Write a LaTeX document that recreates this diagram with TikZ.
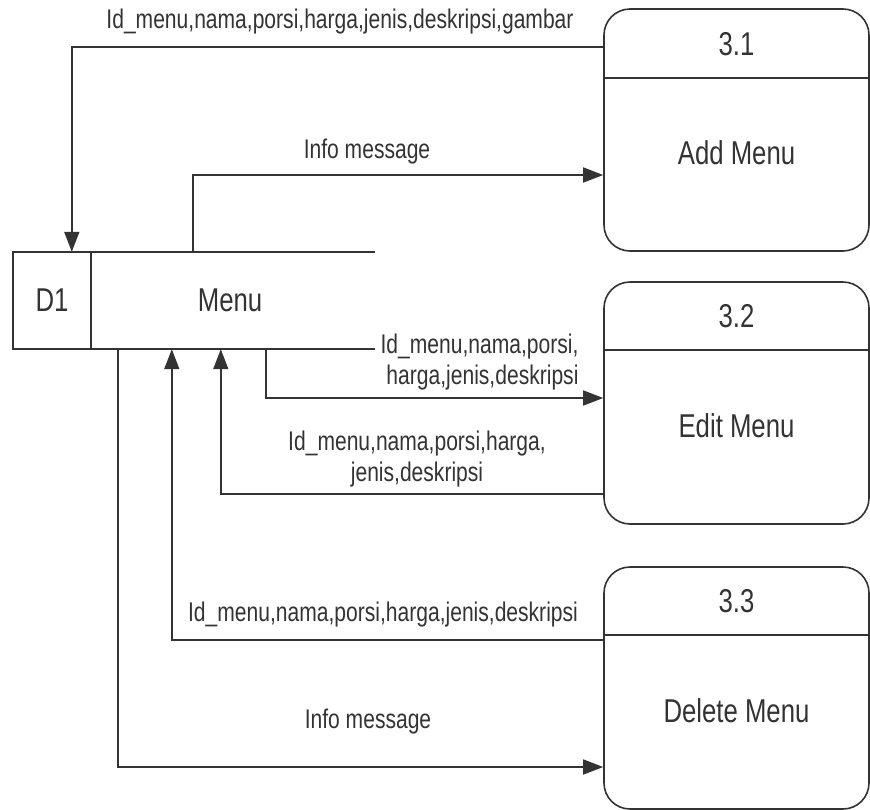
\documentclass[tikz,border=0pt]{standalone}
\usepackage{fontspec}
\setmainfont[FakeStretch=0.78]{Liberation Sans}
\usetikzlibrary{arrows.meta}

\begin{document}
\begin{tikzpicture}[x=1pt, y=-1pt,
  line/.style={draw=black!80, line width=1.6pt},
  flow/.style={line, -{Triangle[length=20pt,width=15pt]}},
  proc/.style={line, rounded corners=26pt, minimum width=265pt, minimum height=242pt, inner sep=0pt},
  store/.style={minimum width=362pt, minimum height=97pt, inner sep=0pt},
  big/.style={font=\fontsize{33}{38}\selectfont, text=black!80},
  small/.style={font=\fontsize{27}{31}\selectfont, text=black!80}]
\useasboundingbox (0,0) rectangle (870,809);

% data store
\node[store] (d1) at (194,300.5) {};
\draw[line] (d1.north east) -- (d1.north west) -- (d1.south west) -- (d1.south east);
\draw[line] ([xshift=78pt]d1.north west) -- ([xshift=78pt]d1.south west);
\node[big] (d1id) at (52,300) {D1};
\node[big] (d1name) at (230,300) {Menu};

% processes
\node[proc] (p1) at (736.5,130) {};
\draw[line] ([yshift=-70pt]p1.north west) -- ([yshift=-70pt]p1.north east);
\node[big] (p1num) at ([yshift=-36pt]p1.north) {3.1};
\node[big] (p1name) at ([yshift=-23pt]p1.center) {Add Menu};

\node[proc] (p2) at (736.5,403) {};
\draw[line] ([yshift=-69pt]p2.north west) -- ([yshift=-69pt]p2.north east);
\node[big] (p2num) at ([yshift=-35pt]p2.north) {3.2};
\node[big] (p2name) at ([yshift=-23pt]p2.center) {Edit Menu};

\node[proc] (p3) at (736.5,688) {};
\draw[line] ([yshift=-69pt]p3.north west) -- ([yshift=-69pt]p3.north east);
\node[big] (p3num) at ([yshift=-35pt]p3.north) {3.3};
\node[big] (p3name) at ([yshift=-23pt]p3.center) {Delete Menu};

% flows
\draw[flow] ([yshift=-39pt]p1.north west) -| ([xshift=59pt]d1.north west);
\node[small] (f1) at (340,22) {Id\_menu,nama,porsi,harga,jenis,deskripsi,gambar};

\draw[flow] ([xshift=180pt]d1.north west) |- ([yshift=-45pt]p1.west);
\node[small] (f2) at (367,152) {Info message};

\draw[flow] ([xshift=253pt]d1.south west) |- ([yshift=5pt]p2.west);
\node[small, align=right, anchor=east] (f3) at (582,362) {Id\_menu,nama,porsi,\\harga,jenis,deskripsi};

\draw[flow] ([yshift=-91pt]p2.west) -| ([xshift=208pt]d1.south west);
\node[small, align=center] (f4) at (417,459) {Id\_menu,nama,porsi,harga,\\jenis,deskripsi};

\draw[flow] ([yshift=48pt]p3.west) -| ([xshift=159pt]d1.south west);
\node[small] (f5) at (383,615) {Id\_menu,nama,porsi,harga,jenis,deskripsi};

\draw[flow] ([xshift=105pt]d1.south west) |- ([yshift=-79pt]p3.west);
\node[small] (f6) at (368,722) {Info message};
\end{tikzpicture}
\end{document}
